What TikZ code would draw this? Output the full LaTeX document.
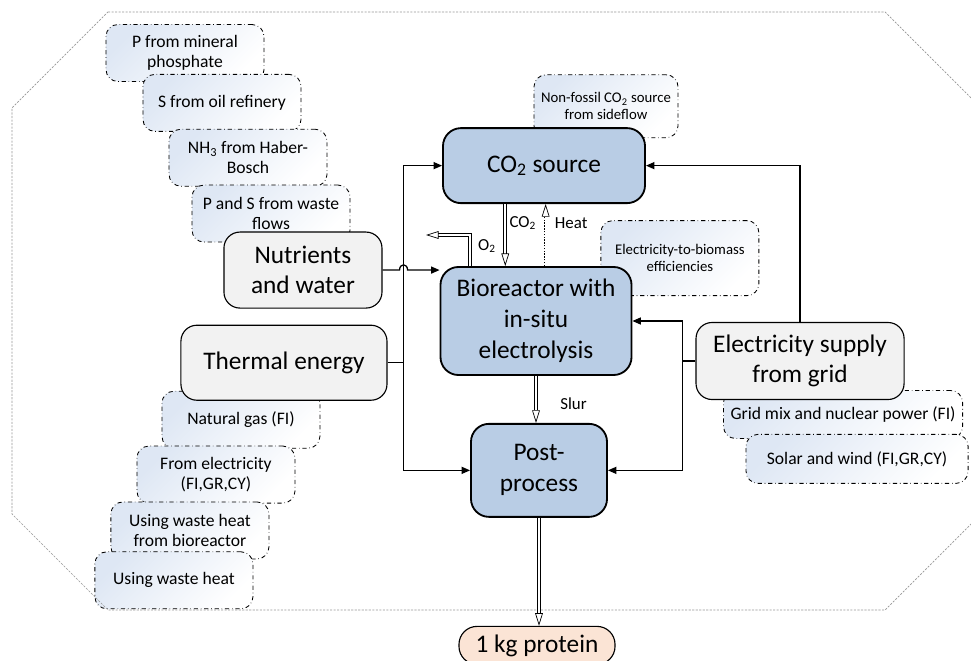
\documentclass[tikz,border=0pt]{standalone}
\usepackage{fontspec}
\setmainfont{Carlito}
\usetikzlibrary{arrows.meta, positioning, calc, backgrounds}

\definecolor{procblue}{RGB}{185,205,229}
\definecolor{inputgrey}{RGB}{242,242,242}
\definecolor{outorange}{RGB}{251,228,213}
\definecolor{optblue}{RGB}{222,231,244}
\definecolor{framegrey}{RGB}{150,150,150}

\begin{document}
\begin{tikzpicture}[
    x=0.025cm, y=-0.025cm,
    procbox/.style={draw, line width=1.3pt, fill=procblue, rounded corners=0.45cm, align=center, font=\fontsize{18}{22}\selectfont, inner sep=2pt},
    inbox/.style={draw, line width=0.8pt, fill=inputgrey, rounded corners=0.4cm, align=center, font=\fontsize{18}{21.5}\selectfont, inner sep=2pt},
    optbox/.style={draw, dash dot, line width=0.6pt, rounded corners=0.3cm, top color=optblue, bottom color=white, shading angle=45, align=center, font=\fontsize{12.5}{14.5}\selectfont, minimum width=3.95cm, minimum height=1.425cm, inner sep=2pt},
    notebox/.style={optbox, font=\fontsize{10.5}{12.2}\selectfont},
    flowlbl/.style={font=\fontsize{12}{14}\selectfont, inner sep=0pt, anchor=west},
    arrow/.style={-{Triangle[length=6pt, width=5pt]}, line width=0.9pt},
    flow/.style={double, double distance=1.6pt, line width=0.5pt, -{Triangle[open, length=9pt, width=5.5pt]}},
    heatflow/.style={flow, dash pattern=on 1pt off 1pt}
]

\useasboundingbox (0,0) rectangle (971,661);
\clip (0,0) rectangle (971,661);

% Outer frame
\draw[framegrey, line width=0.5pt, dash pattern=on 1.5pt off 1pt] (108,12) -- (885,12) -- (981,108) -- (981,514) -- (885,610) -- (108,610) -- (12,514) -- (12,108) -- cycle;

% Process chain
\node[procbox, minimum width=4.775cm, minimum height=2.7cm] (bio) at (536,321) {Bioreactor with\\in-situ\\electrolysis};
\node[procbox, minimum width=5.05cm, minimum height=1.875cm, above=1.55cm of bio, xshift=0.2cm] (co2) {CO\textsubscript{2} source};
\node[procbox, minimum width=3.4cm, minimum height=2.325cm, below=1.175cm of bio, xshift=0.075cm] (post) {Post-\\process};
\node[procbox, fill=outorange, line width=0.8pt, minimum width=3.9cm, minimum height=0.95cm, below=2.7cm of post, xshift=-0.05cm] (protein) {1 kg protein};

% Inputs
\node[inbox, minimum width=3.95cm, minimum height=1.9cm, left=1.425cm of bio.north west, yshift=-0.1cm] (nutr) {Nutrients\\and water};
\node[inbox, minimum width=5.15cm, minimum height=1.875cm, below=0.4cm of nutr, xshift=-0.475cm] (thermal) {Thermal energy};
\node[inbox, minimum width=5.2cm, minimum height=1.925cm, right=1.575cm of bio.east, yshift=-1.0cm] (elec) {Electricity supply\\from grid};

% Bus lines
\coordinate (lbus) at ($(bio.west)+(-0.9cm,0)$);
\coordinate (rbus) at ($(bio.east)+(1.25cm,0)$);
\coordinate (o2vent) at (426,235);

% Options behind the boxes
\begin{scope}[on background layer]
\node[optbox] (pmin) at (185,53) {P from mineral\\phosphate};
\node[optbox, below=-0.2cm of pmin, xshift=0.925cm] (sref) {S from oil refinery};
\node[optbox, below=-0.075cm of sref, xshift=0.65cm] (nh3) {NH\textsubscript{3} from Haber-\\Bosch};
\node[optbox, below=-0.05cm of nh3, xshift=0.575cm] (pswaste) {P and S from waste\\flows};
\node[optbox, below=-0.25cm of thermal, xshift=-1.075cm] (natgas) {Natural gas (FI)};
\node[optbox, below=-0.075cm of natgas, xshift=-0.625cm] (elheat) {From electricity\\(FI,GR,CY)};
\node[optbox, below=-0.05cm of elheat, xshift=-0.65cm] (wastebio) {Using waste heat\\from bioreactor};
\node[optbox, below=-0.2cm of wastebio, xshift=-0.4cm] (waste) {Using waste heat};
\node[optbox, minimum width=5.975cm, minimum height=1.2cm, below=-0.25cm of elec, xshift=1.075cm] (gridmix) {Grid mix and nuclear power (FI)};
\node[optbox, minimum width=5.55cm, minimum height=1.225cm, below=-0.125cm of gridmix, xshift=0.35cm] (solar) {Solar and wind (FI,GR,CY)};
\node[notebox, minimum width=3.6cm, minimum height=1.575cm, above=-0.275cm of co2, xshift=1.55cm] (fossilfree) {Non-fossil CO\textsubscript{2} source\\from sideflow};
\node[notebox, minimum height=1.875cm, above right=-0.75cm and -0.8cm of bio.north east] (effic) {Electricity-to-biomass\\efficiencies};
\end{scope}

% Material flows
\draw[flow] ($(co2.south west)!0.31!(co2.south east)$) coordinate (co2out) -- (co2out |- bio.north);
\draw[heatflow] ($(bio.north west)!0.55!(bio.north east)$) coordinate (heatout) -- (heatout |- co2.south);
\draw[flow] ($(bio.north west)!0.157!(bio.north east)$) coordinate (o2out) |- (o2vent);
\draw[flow] (bio.south) -- (bio.south |- post.north);
\draw[flow] (post.south) -- (post.south |- protein.north);

\node[flowlbl] (co2lbl) at ($(co2out)+(4,19)$) {CO\textsubscript{2}};
\node[flowlbl] (heatlbl) at ($(heatout |- co2.south)+(9,19)$) {Heat};
\node[flowlbl] (o2lbl) at ($(o2out)+(8,-20)$) {O\textsubscript{2}};
\node[flowlbl] (slurlbl) at ($(bio.south)+(24,28)$) {Slur};

% Supply lines
\draw[arrow] (nutr.east) -- ($(nutr.east -| lbus)+(-4,0)$) .. controls +(0,-7) and +(0,-7) .. ++(8,0) -- (nutr.east -| bio.west);
\draw[arrow] (thermal.east) -- (thermal.east -| lbus) |- (co2.west);
\draw[arrow] (thermal.east -| lbus) |- (post.west);
\draw[arrow] (elec.west) -- (elec.west -| rbus) |- (bio.east);
\draw[arrow] (elec.west -| rbus) |- (post.east);
\draw[arrow] (elec.north) |- (co2.east);

\end{tikzpicture}
\end{document}
